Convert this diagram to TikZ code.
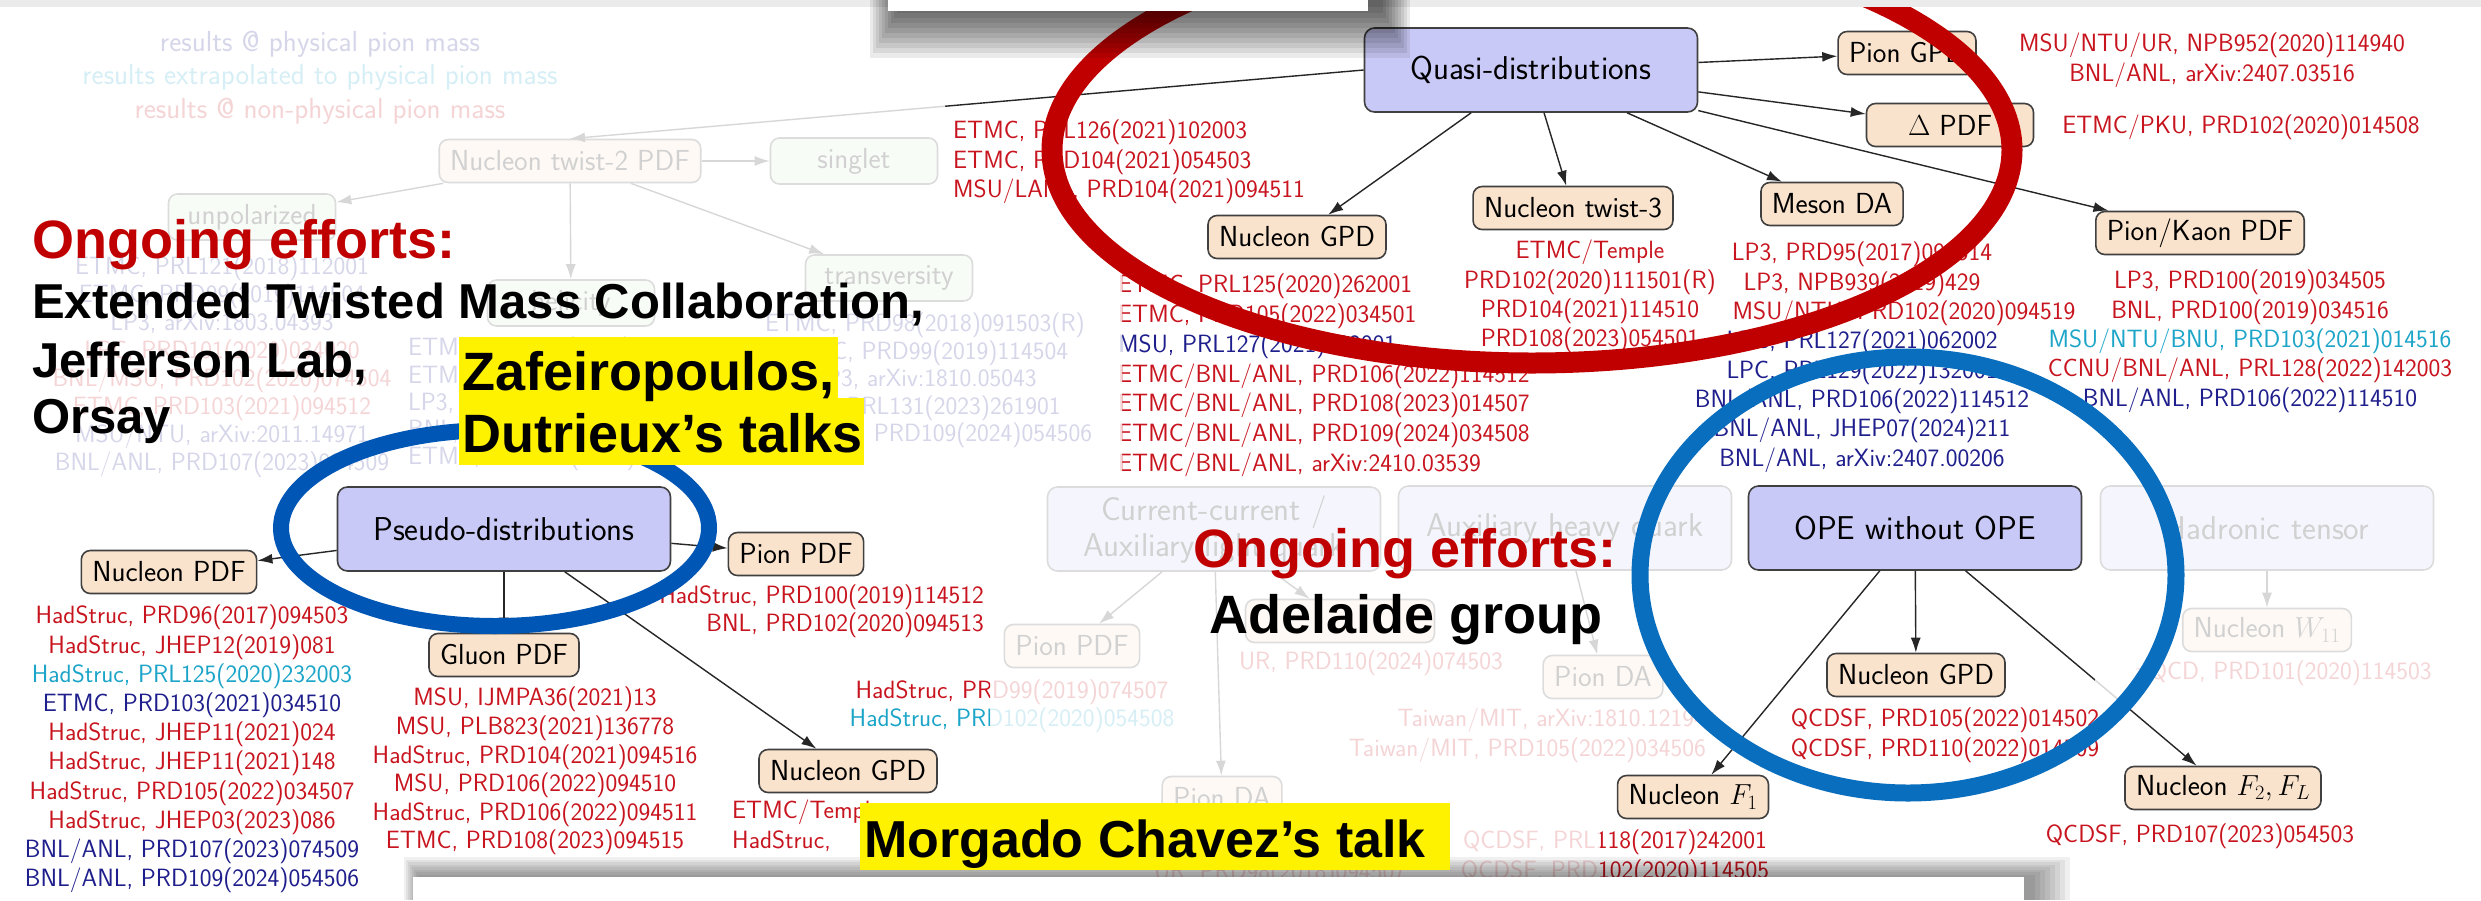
\documentclass[tikz,border=0pt]{standalone}
\usepackage{fix-cm}
\usepackage{fontspec}
\newfontfamily\talkfont{Liberation Sans}
\usetikzlibrary{arrows.meta}
\definecolor{methfill}{HTML}{C9C9F7}
\definecolor{leaffill}{HTML}{FAE3CC}
\definecolor{kindfill}{HTML}{DDF2D8}
\definecolor{refred}{HTML}{C8141E}
\definecolor{refblue}{HTML}{1E1E8C}
\definecolor{refcyan}{HTML}{1CA5C8}
\definecolor{ringred}{HTML}{C00000}
\definecolor{ringblue}{HTML}{0056B4}
\definecolor{ringcyan}{HTML}{0A6EBE}
\newcommand{\redref}[1]{\textcolor{refred}{#1}}
\newcommand{\blueref}[1]{\textcolor{refblue}{#1}}
\newcommand{\cyanref}[1]{\textcolor{refcyan}{#1}}
\tikzset{
  meth/.style={draw=black!75, fill=methfill, rounded corners=10pt, line width=1.6pt,
    minimum width=333pt, minimum height=84pt, align=center,
    font=\sffamily\fontsize{33}{36}\selectfont},
  leaf/.style={draw=black!75, fill=leaffill, rounded corners=9pt, line width=1.6pt,
    minimum height=43pt, inner xsep=11pt, font=\sffamily\fontsize{29}{33}\selectfont},
  kind/.style={leaf, fill=kindfill, minimum width=167pt, minimum height=46pt},
  refs/.style={font=\sffamily\fontsize{25}{29.3}\selectfont, align=center, inner sep=0pt},
  legend/.style={font=\sffamily\fontsize{29}{33}\selectfont, inner sep=0pt},
  link/.style={-{Latex[length=15pt,width=10pt]}, line width=1.4pt, black!85},
  talk/.style={font=\talkfont\bfseries\fontsize{54}{60}\selectfont, inner sep=0pt, anchor=base west},
  talksmall/.style={talk, font=\talkfont\bfseries\fontsize{49}{55}\selectfont},
}

\begin{document}
\begin{tikzpicture}[x=1pt,y=-1pt]
\useasboundingbox (0,0) rectangle (2481,900);
\fill[white] (0,0) rectangle (2481,900);

% legend
\node[legend, text=refblue] (legphys) at (320,44) {results @ physical pion mass};
\node[legend, text=refcyan] (legextr) at (320,77) {results extrapolated to physical pion mass};
\node[legend, text=refred] (legnon) at (320,111) {results @ non-physical pion mass};

% twist-2 branch
\node[leaf] (tw2) at (570,161) {Nucleon twist-2 PDF};
\node[kind] (singlet) at (854,161) {singlet};
\node[kind] (unpol) at (252,217) {unpolarized};
\node[kind] (helic) at (571,303) {helicity};
\node[kind] (transv) at (889,278) {transversity};
\draw[link] (tw2) -- (singlet);
\draw[link] (tw2) -- (unpol);
\draw[link] (tw2) -- (helic);
\draw[link] (tw2) -- (transv);
\node[refs, anchor=north, font=\sffamily\fontsize{25}{27.9}\selectfont] (unpolrefs) at (222,256)
  {\blueref{ETMC, PRL121(2018)112001}\\ \blueref{ETMC, PRD99(2019)114504}\\
   \blueref{LP3, arXiv:1803.04393}\\ \redref{LPC, PRD101(2020)034020}\\
   \redref{BNL/MSU, PRD102(2020)074504}\\ \redref{ETMC, PRD103(2021)094512}\\
   \blueref{MSU/NTU, arXiv:2011.14971}\\ \blueref{BNL/ANL, PRD107(2023)034509}};
\node[refs, align=left, anchor=north west, font=\sffamily\fontsize{25}{27.2}\selectfont] (helicrefs) at (408,337)
  {\blueref{ETMC, PRL121(2018)112001}\\ \blueref{ETMC, PRD99(2019)114504}\\
   \blueref{LP3, arXiv:1807.07431}\\ \blueref{BNL/ANL, PRD108(2023)014507}\\
   \blueref{ETMC, PRD103(2021)094512}};
\node[refs, anchor=north, font=\sffamily\fontsize{25}{27.5}\selectfont] (transvrefs) at (925,313)
  {\blueref{ETMC, PRD98(2018)091503(R)}\\ \blueref{ETMC, PRD99(2019)114504}\\
   \blueref{LP3, arXiv:1810.05043}\\ \blueref{LPC, PRL131(2023)261901}\\
   \blueref{BNL/ANL, PRD109(2024)054506}};

% quasi-distributions
\node[meth] (quasi) at (1531,70) {Quasi-distributions};
\node[leaf] (pgpd) at (1907,53) {Pion GPD};
\node[leaf, minimum width=167pt] (dpdf) at (1950,125) {$\Delta$ PDF};
\node[leaf] (ngpd) at (1297,237) {Nucleon GPD};
\node[leaf] (tw3) at (1573,208) {Nucleon twist-3};
\node[leaf] (mda) at (1832,204) {Meson DA};
\node[leaf] (pkpdf) at (2200,233) {Pion/Kaon PDF};
\draw[link] (quasi.west) -- (tw2.north);
\draw[link] (quasi) -- (pgpd);
\draw[link] (quasi) -- (dpdf);
\draw[link] (quasi) -- (ngpd);
\draw[link] (quasi) -- (tw3);
\draw[link] (quasi) -- (mda);
\draw[link] (quasi) -- (pkpdf);
\node[refs, align=left, anchor=north west] (tw2refs) at (953,120)
  {\redref{ETMC, PRL126(2021)102003}\\ \redref{ETMC, PRD104(2021)054503}\\
   \redref{MSU/LANL, PRD104(2021)094511}};
\node[refs, anchor=north] (pgpdrefs) at (2212,33)
  {\redref{MSU/NTU/UR, NPB952(2020)114940}\\ \redref{BNL/ANL, arXiv:2407.03516}};
\node[refs] (dpdfrefs) at (2241,127) {\redref{ETMC/PKU, PRD102(2020)014508}};
\node[refs, align=left, anchor=north west, font=\sffamily\fontsize{25}{29.7}\selectfont] (ngpdrefs) at (1118,274)
  {\redref{ETMC, PRL125(2020)262001}\\ \redref{ETMC, PRD105(2022)034501}\\
   \blueref{MSU, PRL127(2021)182001}\\ \redref{ETMC/BNL/ANL, PRD106(2022)114512}\\
   \redref{ETMC/BNL/ANL, PRD108(2023)014507}\\ \redref{ETMC/BNL/ANL, PRD109(2024)034508}\\
   \redref{ETMC/BNL/ANL, arXiv:2410.03539}};
\node[refs, anchor=north] (tw3refs) at (1590,240)
  {\redref{ETMC/Temple}\\ \redref{PRD102(2020)111501(R)}\\
   \redref{PRD104(2021)114510}\\ \redref{PRD108(2023)054501}};
\node[refs, anchor=north] (mdarefs) at (1862,242)
  {\redref{LP3, PRD95(2017)094514}\\ \redref{LP3, NPB939(2019)429}\\
   \hspace*{84pt}\redref{MSU/NTU, PRD102(2020)094519}\\ \blueref{LPC, PRL127(2021)062002}\\
   \blueref{LPC, PRL129(2022)132001}\\ \blueref{BNL/ANL, PRD106(2022)114512}\\
   \blueref{BNL/ANL, JHEP07(2024)211}\\ \blueref{BNL/ANL, arXiv:2407.00206}};
\node[refs, anchor=north] (pkrefs) at (2250,270)
  {\redref{LP3, PRD100(2019)034505}\\ \redref{BNL, PRD100(2019)034516}\\
   \cyanref{MSU/NTU/BNU, PRD103(2021)014516}\\ \redref{CCNU/BNL/ANL, PRL128(2022)142003}\\
   \blueref{BNL/ANL, PRD106(2022)114510}};

% pseudo-distributions
\node[meth] (pseudo) at (504,529) {Pseudo-distributions};
\node[leaf] (psnpdf) at (169,572) {Nucleon PDF};
\node[leaf] (psppdf) at (796,554) {Pion PDF};
\node[leaf] (psgpdf) at (504,655) {Gluon PDF};
\node[leaf] (psngpd) at (848,771) {Nucleon GPD};
\draw[link] (pseudo) -- (psnpdf);
\draw[link] (pseudo) -- (psppdf);
\draw[link] (pseudo) -- (psgpdf);
\draw[link] (pseudo) -- (psngpd);
\node[refs, anchor=north, font=\sffamily\fontsize{25}{29.2}\selectfont] (psnrefs) at (192,605)
  {\redref{HadStruc, PRD96(2017)094503}\\ \redref{HadStruc, JHEP12(2019)081}\\
   \cyanref{HadStruc, PRL125(2020)232003}\\ \blueref{ETMC, PRD103(2021)034510}\\
   \redref{HadStruc, JHEP11(2021)024}\\ \redref{HadStruc, JHEP11(2021)148}\\
   \redref{HadStruc, PRD105(2022)034507}\\ \redref{HadStruc, JHEP03(2023)086}\\
   \blueref{BNL/ANL, PRD107(2023)074509}\\ \blueref{BNL/ANL, PRD109(2024)054506}};
\node[refs, anchor=north, font=\sffamily\fontsize{25}{28.6}\selectfont] (psgrefs) at (535,687)
  {\redref{MSU, IJMPA36(2021)13}\\ \redref{MSU, PLB823(2021)136778}\\
   \redref{HadStruc, PRD104(2021)094516}\\ \redref{MSU, PRD106(2022)094510}\\
   \redref{HadStruc, PRD106(2022)094511}\\ \redref{ETMC, PRD108(2023)094515}};
\node[refs, align=right, anchor=north east, font=\sffamily\fontsize{25}{28}\selectfont] (psprefs) at (984,585)
  {\redref{HadStruc, PRD100(2019)114512}\\ \redref{BNL, PRD102(2020)094513}};
\node[refs, align=left, anchor=north west, font=\sffamily\fontsize{25}{30}\selectfont] (psgpdrefs) at (732,800)
  {\redref{ETMC/Temple}\\ \redref{HadStruc,}};

% other methods
\node[meth] (curr) at (1214,529) {Current-current /\\Auxiliary light quark};
\node[meth] (heavy) at (1565,528) {Auxiliary heavy quark};
\node[meth] (ope) at (1915,528) {OPE without OPE};
\node[meth] (hadt) at (2267,528) {Hadronic tensor};

\node[leaf] (ccpdf) at (1072,646) {Pion PDF};
\node[leaf, minimum width=189pt] (ccmid) at (1340,621) {};
\node[leaf] (ccda) at (1222,798) {Pion DA};
\draw[link] (curr) -- (ccpdf);
\draw[link] (curr) -- (ccmid);
\draw[link] (curr) -- (ccda);
\node[refs, anchor=north, font=\sffamily\fontsize{25}{28}\selectfont] (ccprefs) at (1012,680)
  {\redref{HadStruc, PRD99(2019)074507}\\ \cyanref{HadStruc, PRD102(2020)054508}};
\node[refs] (ccmrefs) at (1371,663) {\redref{UR, PRD110(2024)074503}};
\node[refs] (ccdarefs) at (1280,873) {\redref{UR, PRD98(2018)094507}};

\node[leaf] (hqda) at (1603,677) {Pion DA};
\draw[link] (heavy) -- (hqda);
\node[refs, align=right, anchor=north east, font=\sffamily\fontsize{25}{30}\selectfont] (hqrefs) at (1706,708)
  {\redref{Taiwan/MIT, arXiv:1810.12194}\\ \redref{Taiwan/MIT, PRD105(2022)034506}};

\node[leaf] (w11) at (2267,630) {Nucleon $W_{11}$};
\draw[link] (hadt) -- (w11);
\node[refs] (w11refs) at (2283,673) {\redref{$\chi$QCD, PRD101(2020)114503}};

\node[leaf] (opegpd) at (1916,675) {Nucleon GPD};
\node[leaf] (f1) at (1693,797) {Nucleon $F_1$};
\node[leaf] (f2fl) at (2223,788) {Nucleon $F_2, F_L$};
\draw[link] (ope) -- (opegpd);
\draw[link] (ope) -- (f1);
\draw[link] (ope) -- (f2fl);
\node[refs, anchor=north, font=\sffamily\fontsize{25}{30}\selectfont] (opegrefs) at (1945,708)
  {\redref{QCDSF, PRD105(2022)014502}\\ \redref{QCDSF, PRD110(2022)014509}};
\node[refs, anchor=north, font=\sffamily\fontsize{25}{30}\selectfont] (f1refs) at (1615,830)
  {\redref{QCDSF, PRL118(2017)242001}\\ \redref{QCDSF, PRD102(2020)114505}};
\node[refs] (f2refs) at (2200,836) {\redref{QCDSF, PRD107(2023)054503}};

% fade all but the highlighted parts
\fill[white, opacity=0.82, even odd rule] (0,0) rectangle (2481,900)
  (945,8) rectangle (2481,250) (1122,250) rectangle (2481,476)
  (0,476) rectangle (990,900) (1740,476) rectangle (2095,700)
  (1710,700) rectangle (2481,770) (1600,770) rectangle (2481,900);

% rings
\draw[ringred, line width=21pt] (1532,150) ellipse [x radius=480, y radius=213];
\draw[ringblue, line width=16pt] (495,528) ellipse [x radius=214, y radius=98];
\draw[ringcyan, line width=17pt] (1908,575) ellipse [x radius=268, y radius=218];

% slide frame bits
\fill[black!8] (0,0) rectangle (2481,7);
\foreach \i in {1,...,10}
  \fill[black, opacity=0.08] (900-3*\i,0) rectangle (1380+3*\i,8+5*\i);
\fill[white] (888,0) rectangle (1368,11);
\foreach \i in {1,...,8}
  \fill[black, opacity=0.06] (420-2*\i,877-2.5*\i) rectangle (2030+5*\i,900);
\fill[white] (413,877) rectangle (2024,900);

% talk notes
\node[talk, text=ringred] (ongoleft) at (32,258) {Ongoing efforts:};
\node[talksmall] (etmcnote) at (32,318) {Extended Twisted Mass Collaboration,};
\node[talksmall] (jlabnote) at (32,377) {Jefferson Lab,};
\node[talksmall] (orsaynote) at (32,433) {Orsay};
\fill[yellow] (459,337) rectangle (838,400);
\fill[yellow] (459,398) rectangle (864,465);
\node[talk] (zafnote) at (462,390) {Zafeiropoulos,};
\node[talk] (dutnote) at (462,452) {Dutrieux’s talks};
\node[talk, text=ringred] (ongomid) at (1193,567) {Ongoing efforts:};
\node[talk] (adelnote) at (1209,633) {Adelaide group};
\fill[yellow] (860,803) rectangle (1450,870);
\node[talk, font=\talkfont\bfseries\fontsize{52}{58}\selectfont] (morgnote) at (864,857) {Morgado Chavez’s talk};
\end{tikzpicture}
\end{document}
